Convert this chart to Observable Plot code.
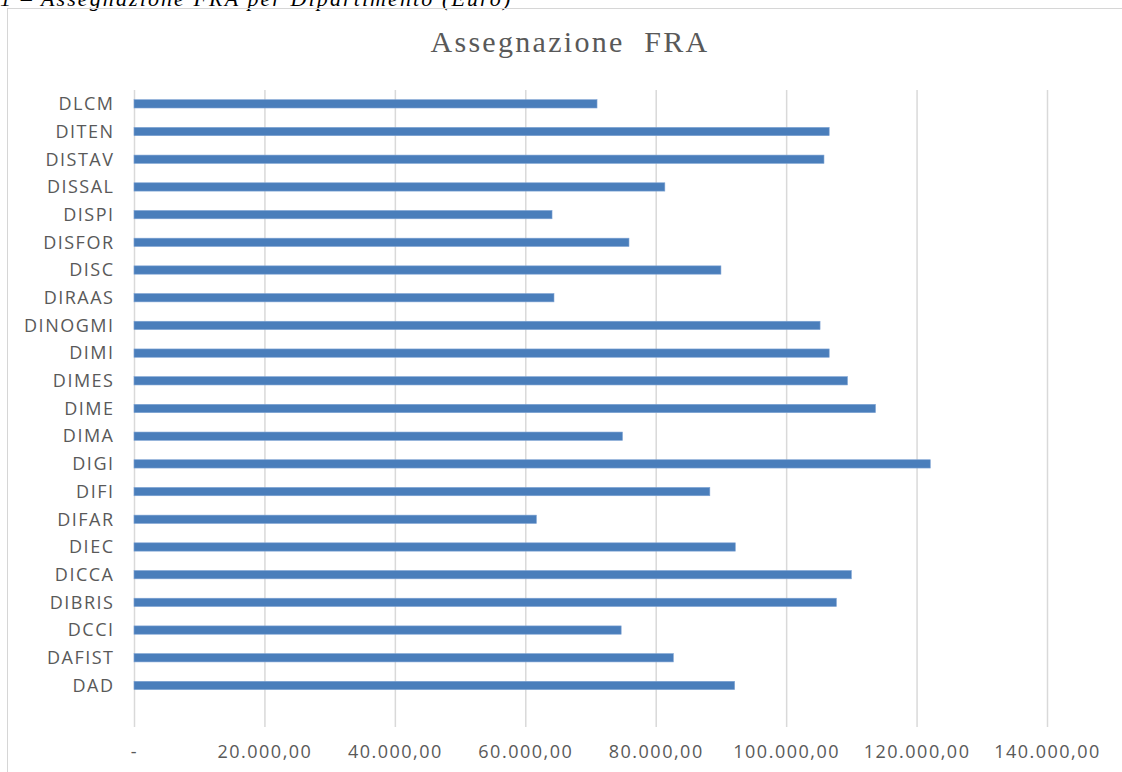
<!DOCTYPE html>
<html>
<head>
<meta charset="utf-8">
<script src="https://cdn.jsdelivr.net/npm/d3@7"></script>
<script src="https://cdn.jsdelivr.net/npm/@observablehq/plot@0.6"></script>
<style>
  html, body { margin: 0; padding: 0; width: 1122px; height: 772px; overflow: hidden; background: #fff; }
  #caption { position: absolute; left: 0; top: -12px; font-family: "Liberation Serif", serif; font-style: italic; font-size: 22px; line-height: 1; letter-spacing: 2.1px; color: #000; white-space: pre; }
  #frame { position: absolute; left: 7px; top: 8px; width: 1300px; height: 900px; border-left: 1.5px solid #d6d6d6; border-top: 1.5px solid #d6d6d6; }
  #title { position: absolute; left: 0; top: 27px; width: 1140px; text-align: center; font-family: "Liberation Serif", serif; font-size: 30px; line-height: 1; letter-spacing: 2.3px; color: #595959; white-space: pre; }
  #chart { position: absolute; left: 0; top: 70px; }
  #chart svg text { font-family: "Open Sans", sans-serif; font-size: 18px; letter-spacing: 1.5px; }
</style>
</head>
<body>
<div id="caption">1 – Assegnazione FRA per Dipartimento (Euro)</div>
<div id="frame"></div>
<div id="title">Assegnazione  FRA</div>
<div id="chart"></div>
<script>
// Departments, listed bottom to top as in the original chart
const departments = ["DAD", "DAFIST", "DCCI", "DIBRIS", "DICCA", "DIEC", "DIFAR", "DIFI", "DIGI", "DIMA", "DIME", "DIMES", "DIMI", "DINOGMI", "DIRAAS", "DISC", "DISFOR", "DISPI", "DISSAL", "DISTAV", "DITEN", "DLCM"];
// FRA allocation (Euro), same order
const amounts = [92100, 82700, 74700, 107700, 110000, 92200, 61700, 88300, 122100, 74900, 113700, 109400, 106600, 105200, 64400, 90000, 75900, 64100, 81400, 105800, 106600, 71000];
// x axis ticks
const xTicks = [0, 20000, 40000, 60000, 80000, 100000, 120000, 140000];

const data = departments.map((d, i) => ({dept: d, value: amounts[i]}));
const yDomain = [...departments].reverse().concat([" "]);
const it = d3.formatLocale({decimal: ",", thousands: ".", grouping: [3], currency: ["", ""]});
const fmt = it.format(",.2f");

const chart = Plot.plot({
  width: 1122,
  height: 702,
  marginTop: 20,
  marginBottom: 45,
  marginLeft: 134,
  marginRight: 75,
  x: {domain: [0, 140000]},
  y: {domain: yDomain, paddingInner: 0.7, paddingOuter: 0.35, round: false},
  marks: [
    Plot.ruleX(xTicks, {stroke: "#d9d9d9", strokeWidth: 1.5}),
    Plot.barX(data, {x: "value", y: "dept", fill: "#4a7ebb", stroke: "#7da2d3", strokeWidth: 0.6}),
    Plot.axisX(xTicks, {tickSize: 0, tickPadding: 18, tickFormat: d => d === 0 ? "-" : fmt(d), color: "#595959", fontSize: 18, label: null}),
    Plot.axisY(departments, {tickSize: 0, tickPadding: 20, color: "#595959", fontSize: 18, label: null})
  ]
});
document.getElementById("chart").appendChild(chart);
</script>
</body>
</html>
